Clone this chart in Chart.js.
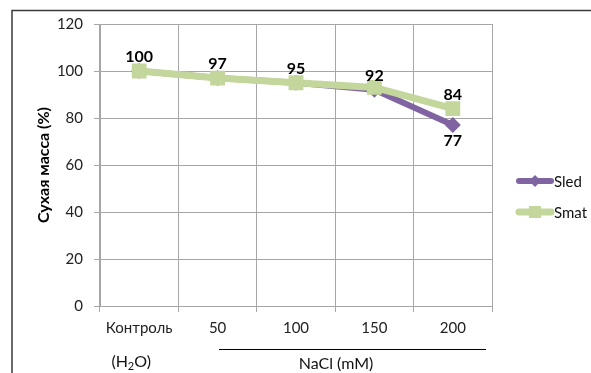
<!DOCTYPE html>
<html>
<head>
<meta charset="utf-8">
<script src="https://cdn.jsdelivr.net/npm/chart.js@4"></script>
<style>
  html, body { margin: 0; padding: 0; background: #fff; }
  #wrap { width: 591px; height: 373px; position: relative; }
</style>
</head>
<body>
<div id="wrap"><canvas id="c" width="591" height="373"></canvas></div>
<script>
// Categories and series
const categories = ['Контроль', '50', '100', '150', '200'];
const sledValues = [100, 97, 95, 92, 77];
const smatValues = [100, 97, 95, 93, 84];
// Which points carry a value label, and where ('above' / 'below' / null)
const sledLabels = ['above', 'above', 'above', 'above', 'below'];
const smatLabels = [null, null, null, null, 'above'];
const yTicks = [0, 20, 40, 60, 80, 100, 120];
const yTitle = 'Сухая масса (%)';

const FONT = 'Lato, "Open Sans", sans-serif';
const SLED = '#8064A2';
const SMAT = '#C3D69B';
const GRID = '#a6a6a6';

// Frame lines, axis title, value labels, legend and the secondary x caption
const decor = {
  id: 'decor',
  beforeDraw(chart) {
    const ctx = chart.ctx;
    ctx.save();
    ctx.strokeStyle = '#3a3a3a';
    ctx.lineWidth = 1.5;
    ctx.beginPath();
    ctx.moveTo(12, 373);
    ctx.lineTo(12, 10.5);
    ctx.lineTo(591, 10.5);
    ctx.stroke();

    // rotated y-axis title
    ctx.translate(44, 165);
    ctx.rotate(-Math.PI / 2);
    ctx.font = 'bold 16px ' + FONT;
    ctx.fillStyle = '#000';
    ctx.textAlign = 'center';
    ctx.textBaseline = 'middle';
    ctx.fillText(yTitle, 0, 0);
    ctx.restore();
  },
  afterDatasetsDraw(chart) {
    const ctx = chart.ctx;
    const x = chart.scales.x;
    ctx.save();
    // value labels
    ctx.font = 'bold 16px ' + FONT;
    ctx.fillStyle = '#000';
    ctx.textAlign = 'center';
    ctx.textBaseline = 'middle';
    chart.data.datasets.forEach((ds, di) => {
      const meta = chart.getDatasetMeta(di);
      ds.valueLabels.forEach((pos, i) => {
        if (!pos) return;
        const pt = meta.data[i];
        const dy = pos === 'above' ? -14 : 16;
        ctx.fillText(String(ds.data[i]), pt.x, pt.y + dy);
      });
    });

    // secondary caption under the category labels
    ctx.fillStyle = '#111';
    ctx.textBaseline = 'middle';
    const cx0 = x.getPixelForValue(0) - 8;
    const yy = 362;
    ctx.textAlign = 'left';
    const p1 = '(H', p2 = 'O)';
    ctx.font = '16px ' + FONT;
    const w1 = ctx.measureText(p1).width;
    ctx.font = '11px ' + FONT;
    const w2 = ctx.measureText('2').width;
    ctx.font = '16px ' + FONT;
    const w3 = ctx.measureText(p2).width;
    let sx = cx0 - (w1 + w2 + w3) / 2;
    ctx.fillText(p1, sx, yy);
    ctx.font = '11px ' + FONT;
    ctx.fillText('2', sx + w1, yy + 4);
    ctx.font = '16px ' + FONT;
    ctx.fillText(p2, sx + w1 + w2, yy);

    // bracket line under the NaCl concentrations
    ctx.strokeStyle = '#000';
    ctx.lineWidth = 1.2;
    ctx.beginPath();
    ctx.moveTo(219, 349.5);
    ctx.lineTo(486, 349.5);
    ctx.stroke();
    ctx.textAlign = 'center';
    ctx.fillText('NaCl (mM)', 336, 364);

    // legend
    const ly = [181, 212];
    chart.data.datasets.forEach((ds, i) => {
      const y = ly[i];
      ctx.strokeStyle = ds.borderColor;
      ctx.lineWidth = ds.borderWidth;
      ctx.lineCap = 'round';
      ctx.beginPath();
      ctx.moveTo(519, y);
      ctx.lineTo(551, y);
      ctx.stroke();
      ctx.fillStyle = ds.borderColor;
      ctx.beginPath();
      if (ds.pointStyle === 'rectRot') {
        ctx.moveTo(535, y - 6); ctx.lineTo(541, y); ctx.lineTo(535, y + 6); ctx.lineTo(529, y);
      } else {
        ctx.rect(529, y - 6, 12, 12);
      }
      ctx.fill();
      ctx.fillStyle = '#111';
      ctx.font = '15px ' + FONT;
      ctx.textAlign = 'left';
      ctx.fillText(ds.label, 554, y + 1);
    });
    ctx.restore();
  }
};

new Chart(document.getElementById('c'), {
  type: 'line',
  data: {
    labels: categories,
    datasets: [
      {
        label: 'Sled',
        data: sledValues,
        valueLabels: sledLabels,
        borderColor: SLED,
        backgroundColor: SLED,
        borderWidth: 6,
        pointStyle: 'rectRot',
        pointRadius: 8,
        pointBorderWidth: 0,
        tension: 0,
        order: 2
      },
      {
        label: 'Smat',
        data: smatValues,
        valueLabels: smatLabels,
        borderColor: SMAT,
        backgroundColor: SMAT,
        borderWidth: 7,
        pointStyle: 'rect',
        pointRadius: 10.5,
        pointBorderWidth: 0,
        tension: 0,
        order: 1
      }
    ]
  },
  options: {
    responsive: false,
    animation: false,
    events: [],
    layout: { padding: { left: 0, top: 24, right: 99, bottom: 0 } },
    plugins: { legend: { display: false }, tooltip: { enabled: false } },
    scales: {
      x: {
        offset: true,
        grid: { offset: true, color: GRID, lineWidth: 1, tickLength: 6, drawTicks: true },
        border: { color: GRID, width: 1 },
        ticks: { color: '#222', font: { family: FONT, size: 15 }, padding: 7, maxRotation: 0 },
        afterFit(s) { s.height = 67; }
      },
      y: {
        min: 0, max: 120,
        afterBuildTicks(s) { s.ticks = yTicks.map(v => ({ value: v })); },
        grid: { color: GRID, lineWidth: 1, tickLength: 6 },
        border: { color: GRID, width: 1 },
        ticks: { color: '#222', font: { family: FONT, size: 15 }, padding: 11 },
        afterFit(s) { s.width = 100; }
      }
    }
  },
  plugins: [decor]
});
</script>
</body>
</html>
